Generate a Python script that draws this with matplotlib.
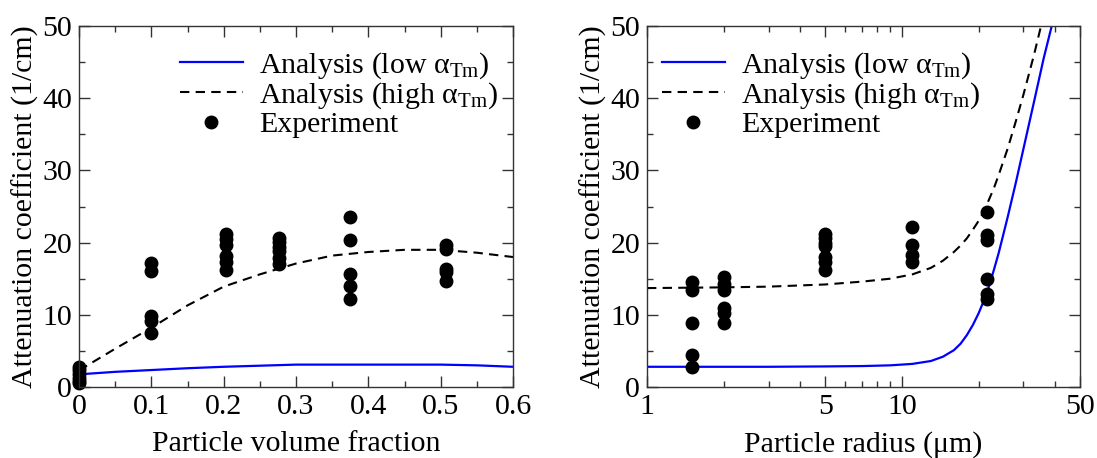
import matplotlib
matplotlib.use("Agg")
import matplotlib.pyplot as plt
from matplotlib.ticker import FixedLocator, NullFormatter, FixedFormatter, MultipleLocator

plt.rcParams['font.family'] = ['Liberation Serif', 'DejaVu Serif']
plt.rcParams['mathtext.fontset'] = 'custom'
plt.rcParams['mathtext.rm'] = 'Liberation Serif'
plt.rcParams['mathtext.it'] = 'Liberation Serif:italic'

# ---- Left panel data (volume fraction) ----
vf_exp_x = [0]*6 + [0.1]*5 + [0.203]*6 + [0.277]*6 + [0.375]*5 + [0.507]*5
vf_exp_y = [2.8, 2.3, 1.8, 1.3, 0.8, 0.5,
            17.2, 16.0, 9.8, 9.2, 7.5,
            21.2, 20.5, 19.6, 18.1, 17.3, 16.2,
            20.7, 20.1, 19.4, 18.8, 17.9, 17.1,
            23.5, 20.4, 15.7, 14.0, 12.2,
            19.6, 19.1, 16.4, 15.9, 14.7]
vf_curve_x = [0.0, 0.05, 0.1, 0.15, 0.2, 0.25, 0.3, 0.35, 0.4, 0.45, 0.5, 0.55, 0.6]
vf_low = [1.75, 2.1, 2.35, 2.6, 2.8, 2.95, 3.1, 3.1, 3.1, 3.1, 3.1, 3.0, 2.8]
vf_high = [2.3, 5.3, 8.2, 11.3, 13.9, 15.6, 17.1, 18.2, 18.7, 19.0, 19.0, 18.6, 18.0]
vf_ticks = [0, 0.1, 0.2, 0.3, 0.4, 0.5, 0.6]
vf_ticklabels = ['0', '0.1', '0.2', '0.3', '0.4', '0.5', '0.6']

# ---- Right panel data (particle radius) ----
r_exp_x = [1.5]*5 + [2.0]*6 + [5.0]*7 + [11.0]*4 + [21.5]*6
r_exp_y = [14.5, 13.5, 8.8, 4.5, 2.8,
           15.3, 14.3, 13.5, 11.0, 10.3, 8.8,
           21.2, 20.7, 20.0, 19.5, 18.0, 17.3, 16.2,
           22.2, 19.7, 18.3, 17.3,
           24.2, 21.1, 20.4, 15.0, 12.9, 12.2]
r_curve_x = [1.0, 2.0, 3.0, 5.0, 7.0, 9.0, 11.0, 13.0, 14.5, 16.0, 17.0, 18.0,
             19.0, 20.0, 21.0, 22.0, 23.0, 24.0, 26.0, 28.0, 30.0, 33.0, 36.0, 40.0]
r_high = [13.7, 13.8, 13.9, 14.2, 14.6, 15.0, 15.6, 16.5, 17.5, 18.7, 19.6, 20.6,
          21.8, 23.0, 24.4, 26.0, 27.6, 29.4, 33.0, 36.8, 40.5, 46.0, 51.5, 58.0]
r_low = [2.8, 2.8, 2.8, 2.85, 2.9, 3.0, 3.2, 3.6, 4.2, 5.1, 6.0, 7.2,
         8.6, 10.2, 12.0, 14.0, 16.3, 18.6, 23.5, 28.3, 33.0, 39.5, 45.5, 52.0]
r_ticks = [1, 5, 10, 50]
r_ticklabels = ['1', '5', '10', '50']
r_minor = [2, 3, 4, 6, 7, 8, 9, 20, 30, 40]

legend_labels = [r'Analysis (low $\mathrm{α}_{\mathrm{Tm}}$)',
                 r'Analysis (high $\mathrm{α}_{\mathrm{Tm}}$)',
                 'Experiment']

FS = 21.5
fig = plt.figure(figsize=(10.97, 4.58), dpi=100)
ax1 = fig.add_axes([79/1097, 1-387/458, (513-79)/1097, (387-26)/458])
ax2 = fig.add_axes([647/1097, 1-387/458, (1080-647)/1097, (387-26)/458])

dash = (0, (4.5, 3))
for ax in (ax1, ax2):
    for s in ax.spines.values():
        s.set_color('#333333')
        s.set_linewidth(1.0)
    ax.tick_params(which='both', direction='in', top=True, right=True,
                   labelsize=FS, colors='#333333', labelcolor='black', pad=5)
    ax.tick_params(which='major', length=8, width=1)
    ax.tick_params(which='minor', length=4.5, width=1)
    ax.set_ylim(0, 50)
    ax.yaxis.set_major_locator(MultipleLocator(10))
    ax.yaxis.set_minor_locator(MultipleLocator(5))
    ax.set_ylabel('Attenuation coefficient (1/cm)', fontsize=FS, labelpad=2)

# left
ax1.plot(vf_curve_x, vf_low, color='#0000ff', lw=1.6, label=legend_labels[0])
ax1.plot(vf_curve_x, vf_high, color='black', lw=1.5, ls=dash, label=legend_labels[1])
ax1.plot(vf_exp_x, vf_exp_y, 'o', color='black', ms=9, ls='none',
         label=legend_labels[2], clip_on=False)
ax1.set_xlim(0, 0.6)
ax1.xaxis.set_major_locator(FixedLocator(vf_ticks))
ax1.xaxis.set_major_formatter(FixedFormatter(vf_ticklabels))
ax1.xaxis.set_minor_locator(MultipleLocator(0.05))
ax1.set_xlabel('Particle volume fraction', fontsize=FS, labelpad=8)
ax1.legend(loc='upper right', bbox_to_anchor=(1.0, 0.975), frameon=False, fontsize=FS,
           handlelength=2.1, handletextpad=0.55, labelspacing=0.0, borderaxespad=0.2,
           borderpad=0.3)

# right
ax2.plot(r_curve_x, r_low, color='#0000ff', lw=1.6, label=legend_labels[0])
ax2.plot(r_curve_x, r_high, color='black', lw=1.5, ls=dash, label=legend_labels[1])
ax2.plot(r_exp_x, r_exp_y, 'o', color='black', ms=9, ls='none', label=legend_labels[2])
ax2.set_xscale('log')
ax2.set_xlim(1, 50)
ax2.xaxis.set_major_locator(FixedLocator(r_ticks))
ax2.xaxis.set_major_formatter(FixedFormatter(r_ticklabels))
ax2.xaxis.set_minor_locator(FixedLocator(r_minor))
ax2.xaxis.set_minor_formatter(NullFormatter())
ax2.set_xlabel('Particle radius (μm)', fontsize=FS, labelpad=8)
ax2.legend(loc='upper left', bbox_to_anchor=(0.0, 0.975), frameon=False, fontsize=FS,
           handlelength=2.1, handletextpad=0.55, labelspacing=0.0, borderaxespad=0.2,
           borderpad=0.3)

fig.savefig('out.png', dpi=100)
